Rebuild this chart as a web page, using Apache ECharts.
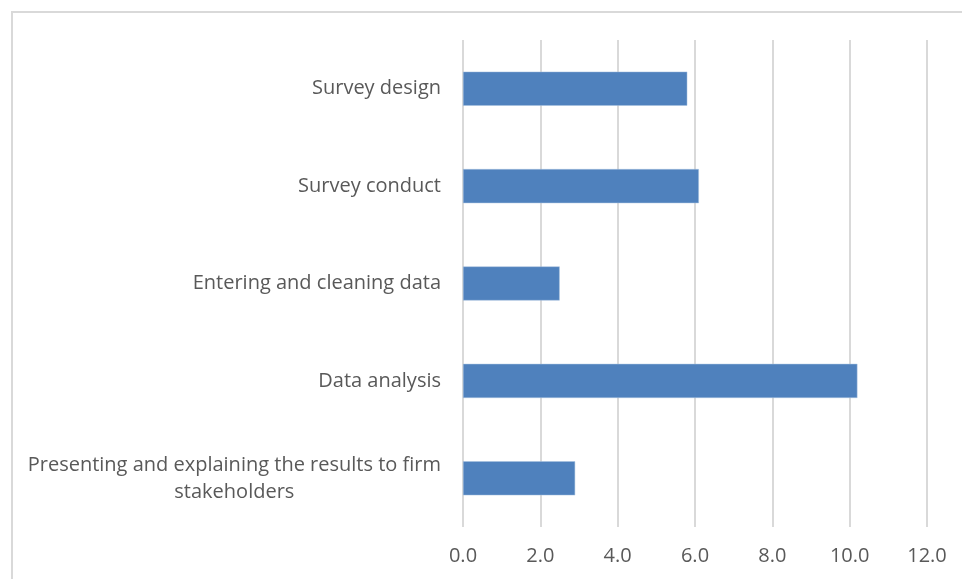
<!DOCTYPE html>
<html>
<head>
<meta charset="utf-8">
<script src="https://cdn.jsdelivr.net/npm/echarts@6/dist/echarts.min.js"></script>
<style>
html,body{margin:0;padding:0;background:#fff;}
#frame{position:absolute;left:11px;top:11px;width:951px;height:568px;border-left:2px solid #d9d9d9;border-top:2px solid #d9d9d9;box-sizing:border-box;}
#chart{position:absolute;left:0;top:0;width:962px;height:579px;}
</style>
</head>
<body>
<div id="frame"></div>
<div id="chart"></div>
<script>
const categories = [
  "Survey design",
  "Survey conduct",
  "Entering and cleaning data",
  "Data analysis",
  "Presenting and explaining the results to firm stakeholders"
];
const values = [5.8, 6.1, 2.5, 10.2, 2.9];
const xTicks = [0, 2, 4, 6, 8, 10, 12];

const labelFont = "'Open Sans', 'Noto Sans', sans-serif";
const chart = echarts.init(document.getElementById('chart'), null, {renderer: 'canvas'});
chart.setOption({
  animation: false,
  backgroundColor: 'transparent',
  grid: {left: 463, right: 35, top: 40, bottom: 52, containLabel: false},
  xAxis: {
    type: 'value',
    min: xTicks[0],
    max: xTicks[xTicks.length - 1],
    interval: 2,
    axisLine: {show: false},
    axisTick: {show: false},
    splitLine: {show: true, lineStyle: {color: '#d9d9d9', width: 2}},
    axisLabel: {
      color: '#595959',
      fontFamily: labelFont,
      fontSize: 20,
      margin: 19,
      formatter: v => v.toFixed(1)
    }
  },
  yAxis: {
    type: 'category',
    inverse: true,
    data: categories,
    axisLine: {show: false},
    axisTick: {show: false},
    axisLabel: {
      color: '#595959',
      fontFamily: labelFont,
      fontSize: 20,
      margin: 22,
      lineHeight: 27,
      formatter: function (v) {
        if (v.length > 40) {
          const words = v.split(' ');
          const first = words.slice(0, 7).join(' ');
          const rest = words.slice(7).join(' ');
          return '{c|' + first + '}\n{c|' + rest + '}';
        }
        return v;
      },
      rich: {
        c: {align: 'center', color: '#595959', fontFamily: labelFont, fontSize: 20, lineHeight: 27}
      }
    }
  },
  series: [{
    type: 'bar',
    data: values,
    barCategoryGap: '65%',
    itemStyle: {color: '#4f81bd', borderColor: '#a7c0de', borderWidth: 0.5}
  }]
});
</script>
</body>
</html>
